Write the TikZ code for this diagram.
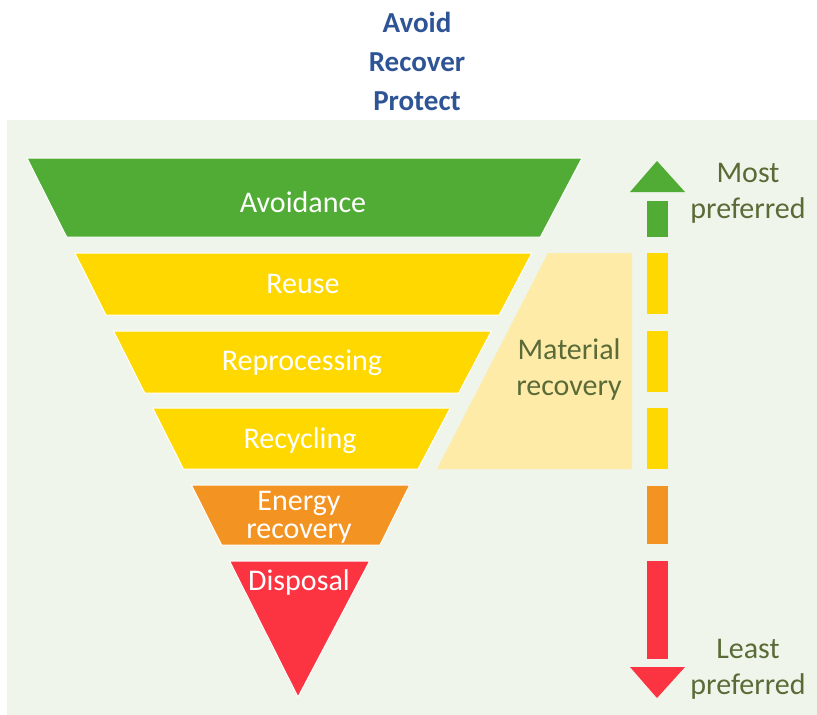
\documentclass[tikz,border=0pt]{standalone}
\usepackage{fontspec}
\setmainfont{Carlito}
\usepackage{tikz}
\usepackage{xcolor}
\usetikzlibrary{positioning}

\definecolor{bgGreen}{HTML}{EFF5EA}
\definecolor{titleBlue}{HTML}{2F5496}
\definecolor{avoidGreen}{HTML}{50AC34}
\definecolor{wasteYellow}{HTML}{FFD800}
\definecolor{energyOrange}{HTML}{F39322}
\definecolor{disposalRed}{HTML}{FC3341}
\definecolor{recoveryCream}{HTML}{FEEBA8}
\definecolor{labelOlive}{HTML}{5A6B38}

\tikzset{
  band/.style={draw=white, line width=1pt},
  bandlabel/.style={white, font=\fontsize{30}{36}\selectfont, anchor=base, align=center},
  sidelabel/.style={labelOlive, font=\fontsize{30}{36}\selectfont, anchor=base, align=center},
}

\begin{document}
\begin{tikzpicture}[x=1pt, y=-1pt]
        \useasboundingbox (0,0) rectangle (817,715);

        % Heading (base = last line)
        \node[titleBlue, font=\bfseries\fontsize{29}{39}\selectfont, align=center, anchor=base] (title) at (417,110) {Avoid\\Recover\\Protect};

        % Background panel
        \fill[bgGreen] (7,120) rectangle (817,715);

        % Hierarchy bands
        \draw[band, fill=avoidGreen] (27,158) -- (582,158) -- (540.4,237) -- (66.7,237) -- cycle;
        \draw[band, fill=wasteYellow] (74.8,253) -- (531.9,253) -- (499.3,315) -- (105.9,315) -- cycle;
        \draw[band, fill=wasteYellow] (113.5,331) -- (491.4,331) -- (458.7,393) -- (144.7,393) -- cycle;
        \draw[band, fill=wasteYellow] (152.7,408) -- (450.3,408) -- (418.1,469) -- (183.4,469) -- cycle;
        \draw[band, fill=energyOrange] (191.4,485) -- (409.7,485) -- (380,545) -- (221.6,545) -- cycle;
        \draw[band, fill=disposalRed] (229.6,561) -- (369.7,561) -- (298,697) -- cycle;

        \node[bandlabel] (avoidance) at (303,212) {Avoidance};
        \node[bandlabel] (reuse) at (303,293) {Reuse};
        \node[bandlabel] (reprocessing) at (302,370) {Reprocessing};
        \node[bandlabel] (recycling) at (300,448) {Recycling};
        \node[bandlabel, font=\fontsize{30}{28}\selectfont] (energy) at (299,538) {Energy\\recovery};
        \node[bandlabel] (disposal) at (299,590) {Disposal};

        % Material recovery bracket
        \fill[recoveryCream] (548,253) -- (632,253) -- (632,469) -- (437,469) -- cycle;
        \node[sidelabel] (material) at (569,395) {Material\\recovery};

        % Preference arrow
        \fill[avoidGreen] (630,192) -- (685,192) -- (657,161) -- cycle;
        \foreach \top/\bot/\col in {201/237/avoidGreen, 253/314/wasteYellow, 331/392/wasteYellow, 408/469/wasteYellow, 486/544/energyOrange, 561/659/disposalRed} {
            \fill[\col] (647,\top) rectangle (668,\bot);
        }
        \fill[disposalRed] (630,667) -- (685,667) -- (657,698) -- cycle;

        \node[sidelabel] (most) at (748,218) {Most\\preferred};
        \node[sidelabel] (least) at (748,694) {Least\\preferred};
\end{tikzpicture}
\end{document}
